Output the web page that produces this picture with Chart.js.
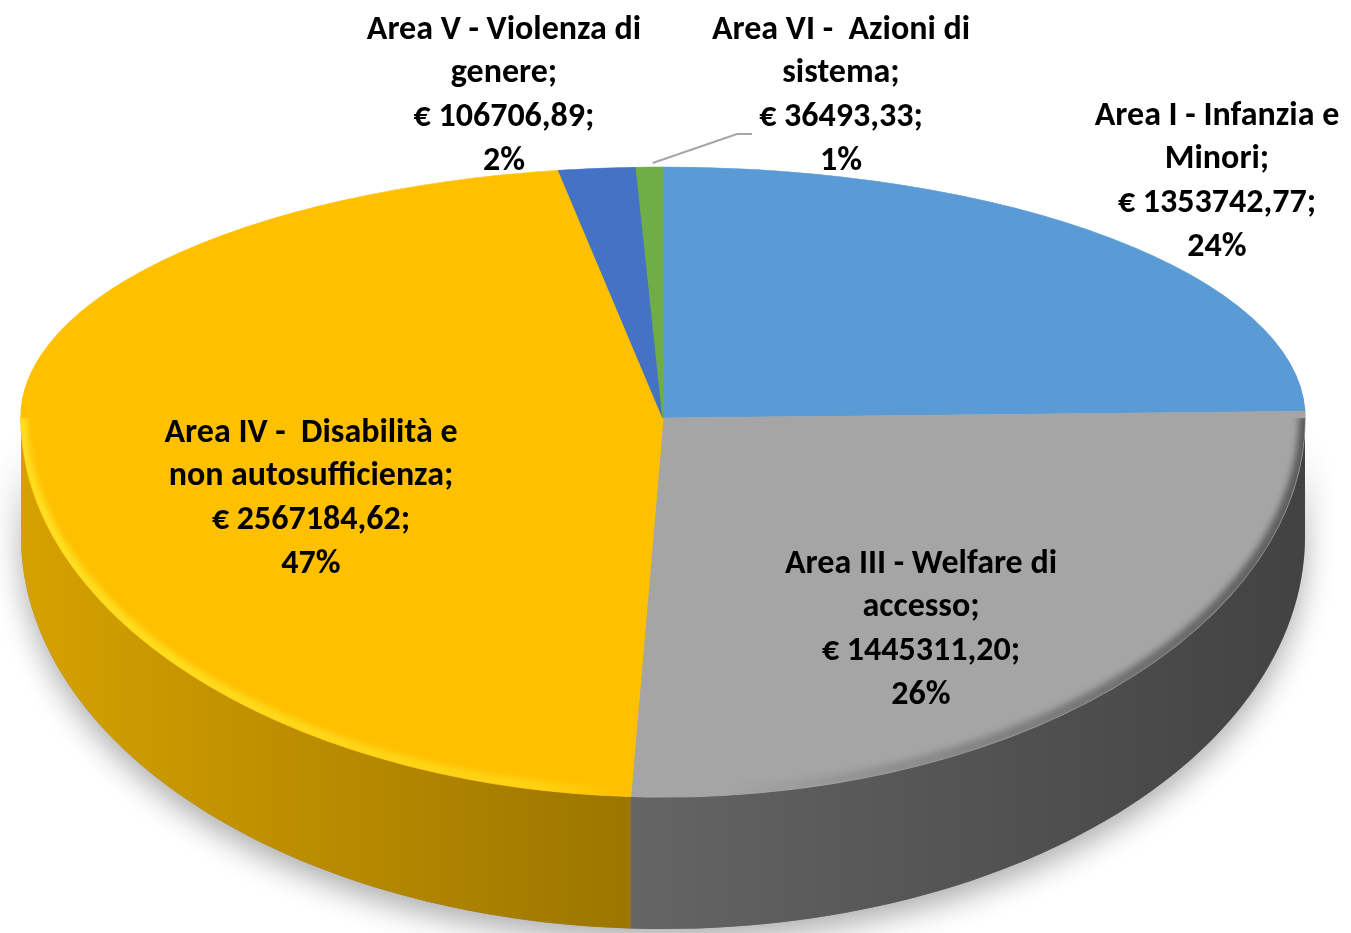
<!DOCTYPE html>
<html lang="it">
<head>
<meta charset="utf-8">
<title>Risorse per area di intervento</title>
<script src="https://cdn.jsdelivr.net/npm/chart.js@4.4.1/dist/chart.umd.min.js"></script>
<style>
  html, body { margin: 0; padding: 0; background: #fff; }
  #wrap { position: relative; width: 1351px; height: 933px; overflow: hidden; }
</style>
</head>
<body>
<div id="wrap"><canvas id="chart" width="1351" height="933"></canvas></div>
<script>
// Categories, already broken into lines as in the original labels
const areaLabels = [
  ['Area I - Infanzia e', 'Minori'],
  ['Area III - Welfare di', 'accesso'],
  ['Area IV -  Disabilità e', 'non autosufficienza'],
  ['Area V - Violenza di', 'genere'],
  ['Area VI -  Azioni di', 'sistema']
];
// Amounts in euro
const areaValues = [1353742.77, 1445311.20, 2567184.62, 106706.89, 36493.33];
const areaColors = ['#5B9BD5', '#A5A5A5', '#FFC000', '#4472C4', '#70AD47'];

// 3D look: top face is drawn by Chart.js with two half-ellipse transforms,
// the side wall is drawn from the arc angles Chart.js computed
const PIE = { cx: 663, cy: 418, rx: 642, ryTop: 251, ryBottom: 379, depth0: 118, depth1: 14 };

// where each label block is centred (first line)
const labelSpots = [
  { x: 1217, y: 116 },
  { x: 921, y: 564 },
  { x: 311, y: 433 },
  { x: 504, y: 30 },
  { x: 841, y: 30 }
];

// percentages rounded so they add up to 100, like Excel does
function roundedPercents(values) {
  const total = values.reduce((a, b) => a + b, 0);
  const raw = values.map(v => v / total * 100);
  const out = raw.map(Math.floor);
  let left = 100 - out.reduce((a, b) => a + b, 0);
  raw.map((r, i) => [r - Math.floor(r), i])
    .sort((a, b) => b[0] - a[0])
    .slice(0, left)
    .forEach(([, i]) => out[i] += 1);
  return out;
}

const formatEuro = v => '€ ' + v.toFixed(2).replace('.', ',');

function shade(hex, f) {
  const n = parseInt(hex.slice(1), 16);
  const r = Math.round(((n >> 16) & 255) * f);
  const g = Math.round(((n >> 8) & 255) * f);
  const b = Math.round((n & 255) * f);
  return `rgb(${r},${g},${b})`;
}

function proj(a) {
  const s = Math.sin(a);
  return {
    x: PIE.cx + PIE.rx * Math.cos(a),
    y: PIE.cy + (s < 0 ? PIE.ryTop : PIE.ryBottom) * s
  };
}
const depthAt = a => PIE.depth0 + PIE.depth1 * Math.max(0, Math.sin(a));

function frontPath(ctx, steps) {
  ctx.beginPath();
  for (let i = 0; i <= steps; i++) {
    const a = Math.PI * i / steps;
    const p = proj(a);
    ctx.lineTo(p.x, p.y);
  }
  for (let i = steps; i >= 0; i--) {
    const a = Math.PI * i / steps;
    const p = proj(a);
    ctx.lineTo(p.x, p.y + depthAt(a));
  }
  ctx.closePath();
}

const pie3d = {
  id: 'pie3d',
  beforeDatasetsDraw(chart) {
    const ctx = chart.ctx;
    const meta = chart.getDatasetMeta(0);
    const steps = 120;

    // soft shadow under the wall
    ctx.save();
    ctx.shadowColor = 'rgba(0,0,0,0.32)';
    ctx.shadowBlur = 30;
    ctx.shadowOffsetY = 12;
    frontPath(ctx, steps);
    ctx.fillStyle = '#888';
    ctx.fill();
    ctx.restore();

    // side wall, only the front half (angles 0..PI) is visible
    meta.data.forEach((arc, i) => {
      const a0 = Math.max(arc.startAngle, 0);
      const a1 = Math.min(arc.endAngle, Math.PI);
      if (a1 <= a0) return;
      const grad = ctx.createLinearGradient(PIE.cx - PIE.rx, 0, PIE.cx + PIE.rx, 0);
      grad.addColorStop(0, shade(areaColors[i], 0.84));
      grad.addColorStop(0.5, shade(areaColors[i], 0.6));
      grad.addColorStop(1, shade(areaColors[i], 0.4));
      ctx.save();
      ctx.beginPath();
      const n = Math.max(2, Math.ceil((a1 - a0) / Math.PI * steps));
      for (let k = 0; k <= n; k++) {
        const a = a0 + (a1 - a0) * k / n;
        const p = proj(a);
        ctx.lineTo(p.x, p.y);
      }
      for (let k = n; k >= 0; k--) {
        const a = a0 + (a1 - a0) * k / n;
        const p = proj(a);
        ctx.lineTo(p.x, p.y + depthAt(a));
      }
      ctx.closePath();
      ctx.fillStyle = grad;
      ctx.fill();
      ctx.restore();
    });

    // top face: let the arc elements draw themselves, squashed into the ellipse
    const first = meta.data[0];
    const R = first.outerRadius;
    [[PIE.ryTop, 0, PIE.cy], [PIE.ryBottom, PIE.cy, chart.height]].forEach(([ry, y0, y1]) => {
      ctx.save();
      ctx.beginPath();
      ctx.rect(0, y0, chart.width, y1 - y0);
      ctx.clip();
      ctx.translate(PIE.cx, PIE.cy);
      ctx.scale(PIE.rx / R, ry / R);
      ctx.translate(-first.x, -first.y);
      meta.data.forEach(arc => arc.draw(ctx));
      ctx.restore();
    });

    // bevel along the front rim: light on the left, dark on the right
    ctx.save();
    ctx.beginPath();
    for (let i = 0; i <= steps; i++) {
      const p = proj(Math.PI * i / steps);
      ctx.lineTo(p.x, p.y);
    }
    ctx.closePath();
    ctx.clip();
    ctx.filter = 'blur(3px)';
    const rim = ctx.createLinearGradient(PIE.cx - PIE.rx, 0, PIE.cx + PIE.rx, 0);
    rim.addColorStop(0, 'rgba(255,228,40,0.9)');
    rim.addColorStop(0.4, 'rgba(255,228,40,0.5)');
    rim.addColorStop(0.47, 'rgba(255,228,40,0)');
    rim.addColorStop(0.55, 'rgba(40,40,40,0)');
    rim.addColorStop(0.8, 'rgba(40,40,40,0.35)');
    rim.addColorStop(1, 'rgba(40,40,40,0.6)');
    ctx.strokeStyle = rim;
    ctx.lineWidth = 12;
    ctx.beginPath();
    for (let i = 0; i <= steps; i++) {
      const p = proj(Math.PI * i / steps);
      ctx.lineTo(p.x, p.y - 3);
    }
    ctx.stroke();
    ctx.restore();
    return false;
  },
  afterDraw(chart) {
    const ctx = chart.ctx;
    const meta = chart.getDatasetMeta(0);
    const pct = roundedPercents(areaValues);

    // leader line for the smallest slice
    const last = meta.data[meta.data.length - 1];
    const start = proj((last.startAngle + last.endAngle) / 2);
    ctx.save();
    ctx.strokeStyle = '#A6A6A6';
    ctx.lineWidth = 2;
    ctx.beginPath();
    ctx.moveTo(start.x + 3, start.y - 4);
    ctx.lineTo(737, 134);
    ctx.lineTo(752, 134);
    ctx.stroke();
    ctx.restore();

    ctx.save();
    ctx.font = 'bold 34px Carlito, Lato, sans-serif';
    ctx.fillStyle = '#000';
    ctx.textAlign = 'center';
    ctx.textBaseline = 'middle';
    chart.data.labels.forEach((name, i) => {
      const lines = name.slice(0, -1).concat([name[name.length - 1] + ';',
        formatEuro(areaValues[i]) + ';', pct[i] + '%']);
      const spot = labelSpots[i];
      lines.forEach((t, k) => ctx.fillText(t, spot.x, spot.y + k * 43.8));
    });
    ctx.restore();
  }
};

new Chart(document.getElementById('chart'), {
  type: 'pie',
  data: {
    labels: areaLabels,
    datasets: [{
      data: areaValues,
      backgroundColor: areaColors,
      borderColor: areaColors,
      borderWidth: 1,
      clip: false
    }]
  },
  options: {
    responsive: false,
    animation: false,
    events: [],
    layout: { padding: 0 },
    plugins: {
      legend: { display: false },
      tooltip: { enabled: false }
    }
  },
  plugins: [pie3d]
});
</script>
</body>
</html>
